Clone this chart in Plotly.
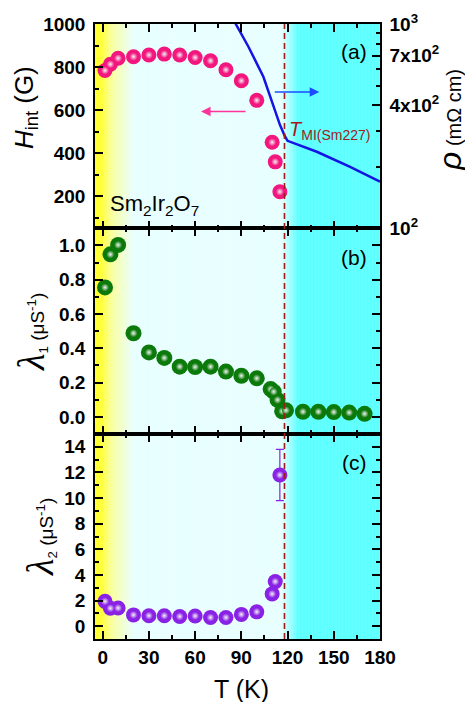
import plotly.graph_objects as go

# ---------------- data ----------------
T_h = [1.5, 5, 10, 20, 30, 40, 50, 60, 70, 80, 90, 100, 110, 112, 115]
H_int = [784, 813, 841, 848, 856, 860, 856, 844, 829, 787, 736, 645, 450, 359, 220]

T_rho = [80, 86.6, 94.6, 104.3, 109.7, 115.1, 118.4, 120, 139, 160.6, 180]
rho = [1220, 1000, 774, 552, 424, 320, 281, 268, 237, 200, 169]

T_l1 = [1.5, 5, 10, 20, 30, 40, 50, 60, 70, 80, 90, 100, 109, 111, 113.5, 116.5, 119,
        130, 140, 150, 160, 170]
lam1 = [0.755, 0.948, 1.003, 0.488, 0.376, 0.344, 0.293, 0.291, 0.293, 0.264, 0.24, 0.225,
        0.162, 0.147, 0.099, 0.033, 0.038, 0.03, 0.03, 0.028, 0.025, 0.018]

T_l2 = [1.5, 5, 10, 20, 30, 40, 50, 60, 70, 80, 90, 100, 110, 112, 115]
lam2 = [1.94, 1.4, 1.42, 0.88, 0.82, 0.82, 0.76, 0.8, 0.68, 0.68, 0.92, 1.12, 2.52, 3.48, 11.8]
lam2_err = [0, 0, 0, 0, 0, 0, 0, 0, 0, 0, 0, 0, 0, 0, 2.0]

T_MI = 118

x_tickvals = [0, 30, 60, 90, 120, 150, 180]
rho_tickvals = [100, 400, 700, 1000]
rho_ticktext = ["10<sup>2</sup>", "4x10<sup>2</sup>", "7x10<sup>2</sup>", "10<sup>3</sup>"]
rho_minor = [200, 300, 500, 600, 800, 900]

# background gradient stops (T, rgb)
bg_stops = [(-5, (255, 255, 51)), (-1, (255, 255, 51)), (6, (248, 255, 160)),
            (20, (232, 255, 255)), (116, (232, 255, 255)), (127, (92, 255, 255)),
            (180, (92, 255, 255))]

FONT = "Liberation Sans, Arial, sans-serif"
PINK = "#f2167e"
GREEN = "#0b7a0b"
PURPLE = "#8a22e6"
BLUE = "#1414e6"
DRED = "#a01c1c"


def bg_color(t):
    for (t0, c0), (t1, c1) in zip(bg_stops[:-1], bg_stops[1:]):
        if t0 <= t <= t1:
            f = 0 if t1 == t0 else (t - t0) / (t1 - t0)
            return "rgb(%d,%d,%d)" % tuple(round(a + (b - a) * f) for a, b in zip(c0, c1))
    return "rgb(%d,%d,%d)" % bg_stops[-1][1]


fig = go.Figure()


def spheres(x, y, color, xa, ya, size=15, err=None):
    kw = {}
    if err is not None:
        kw["error_y"] = dict(type="data", array=err, visible=True, color=color,
                             thickness=1.2, width=4)
    fig.add_trace(go.Scatter(x=x, y=y, mode="markers", xaxis=xa, yaxis=ya,
                             marker=dict(size=size, color=color, line=dict(width=0)),
                             showlegend=False, **kw))
    fig.add_trace(go.Scatter(x=x, y=y, mode="markers", xaxis=xa, yaxis=ya,
                             marker=dict(size=8, color=color, line=dict(width=0),
                                         gradient=dict(type="radial", color="#f4f4f4")),
                             showlegend=False, hoverinfo="skip"))


spheres(T_h, H_int, PINK, "x3", "y3")
fig.add_trace(go.Scatter(x=T_rho, y=rho, mode="lines", xaxis="x3", yaxis="y4",
                         line=dict(color=BLUE, width=2.5), showlegend=False))
spheres(T_l1, lam1, GREEN, "x2", "y2", size=16)
spheres(T_l2, lam2, PURPLE, "x", "y", err=lam2_err)

# background gradient strips
shapes = []
t = -5.0
step = 0.5
while t < 180:
    shapes.append(dict(type="rect", xref="x", yref="paper", x0=t, x1=min(t + step * 1.6, 180),
                       y0=0, y1=1, fillcolor=bg_color(t + step / 2), line=dict(width=0),
                       layer="below"))
    t += step
# transition line
shapes.append(dict(type="line", xref="x", yref="paper", x0=T_MI, x1=T_MI, y0=0, y1=1,
                   line=dict(color=DRED, width=1.6, dash="6px,4px"), layer="above"))

tickfont = dict(family=FONT, size=19, color="black", weight="bold")
common_x = dict(range=[-5, 180], tickmode="array", tickvals=x_tickvals, ticks="inside",
                ticklen=8, tickwidth=1.5, tickcolor="black", showline=True, linewidth=1.5,
                linecolor="black", mirror="ticks", showgrid=False, zeroline=False,
                automargin=False,
                minor=dict(dtick=15, tick0=0, ticks="inside", ticklen=4, tickwidth=1.5,
                           tickcolor="black"),
                tickfont=tickfont)
common_y = dict(ticks="inside", ticklen=8, tickwidth=1.5, tickcolor="black", showline=True,
                linewidth=1.5, linecolor="black", showgrid=False, zeroline=False,
                automargin=False, tickfont=tickfont, ticklabelstandoff=4)

d1, d2 = 0.3333, 0.6678

# page has an 8px body margin: figure 465x694 placed at (8,8)
fig.update_layout(
    width=465, height=694,
    margin=dict(l=87, r=93, t=16, b=63, autoexpand=False),
    paper_bgcolor="white", plot_bgcolor="white",
    showlegend=False,
    shapes=shapes,
    xaxis=dict(domain=[0, 1], anchor="y", **common_x),
    xaxis2=dict(domain=[0, 1], anchor="y2", matches="x", showticklabels=False, **common_x),
    xaxis3=dict(domain=[0, 1], anchor="y3", matches="x", showticklabels=False, **common_x),
    yaxis=dict(domain=[0, d1], anchor="x", range=[-1, 15], dtick=2, tick0=0, mirror="ticks",
               minor=dict(dtick=1, tick0=0, ticks="inside", ticklen=4, tickwidth=1.5,
                          tickcolor="black"), **common_y),
    yaxis2=dict(domain=[d1, d2], anchor="x2", range=[-0.1, 1.1], dtick=0.2, tick0=0,
                tickformat=".1f", mirror="ticks",
                minor=dict(dtick=0.1, tick0=0, ticks="inside", ticklen=4, tickwidth=1.5,
                           tickcolor="black"), **common_y),
    yaxis3=dict(domain=[d2, 1], anchor="x3", range=[50, 1000], dtick=200, tick0=0,
                mirror=False,
                minor=dict(dtick=100, tick0=0, ticks="inside", ticklen=4, tickwidth=1.5,
                           tickcolor="black"), **common_y),
    yaxis4=dict(overlaying="y3", anchor="x3", side="right", type="log", range=[2, 3],
                tickmode="array", tickvals=rho_tickvals, ticktext=rho_ticktext,
                minor=dict(tickmode="array", tickvals=rho_minor, ticks="inside", ticklen=4,
                           tickwidth=1.5, tickcolor="black"),
                **common_y),
)


def px(x):
    return (x - 95) / 285


def py(y):
    return (639 - y) / 615


def note(text, x, y, size, color="black", xanchor="center", angle=0):
    return dict(text=text, xref="paper", yref="paper", x=px(x), y=py(y), showarrow=False,
                xanchor=xanchor, yanchor="middle", textangle=angle,
                font=dict(family=FONT, size=size, color=color))


ann = []
# panel labels
for lab, yy in [("(a)", 51), ("(b)", 257), ("(c)", 462)]:
    ann.append(note(lab, 354, yy, 21))
# compound label
ann.append(note("Sm<sub>2</sub>Ir<sub>2</sub>O<sub>7</sub>", 108, 205, 22, xanchor="left"))
# T_MI label
ann.append(note("<i>T</i><sub>MI(Sm227)</sub>", 287, 131, 20, color=DRED, xanchor="left"))
# arrows
ann.append(dict(text="", xref="x3", yref="y3", x=63.8, y=593, ax=46, ay=0, showarrow=True,
                arrowhead=2, arrowsize=1.2, arrowwidth=1.6, arrowcolor="#ff3399"))
ann.append(dict(text="", xref="x3", yref="y3", x=140.6, y=684, ax=-46, ay=0, showarrow=True,
                arrowhead=2, arrowsize=1.2, arrowwidth=1.6, arrowcolor="#1a4dff"))
# axis titles
ann.append(note("<i>H</i><sub>int</sub> (G)", 25, 108, 26, angle=-90))
ann.append(note("<span style='font-family:Liberation Serif;font-size:38px'><i>λ</i></span>"
                "<sub>1</sub> (μS<sup>-1</sup>)", 31, 332, 19, angle=-90))
ann.append(note("<span style='font-family:Liberation Serif;font-size:38px'><i>λ</i></span>"
                "<sub>2</sub> (μS<sup>-1</sup>)", 40, 537, 19, angle=-90))
ann.append(note("<span style='font-size:32px'><i>ρ</i></span> (mΩ cm)", 470, 120, 20,
                xanchor="right", angle=-90))
ann.append(note("T (K)", 241, 689, 25))
fig.update_layout(annotations=ann)

fig.write_html("out.html")
